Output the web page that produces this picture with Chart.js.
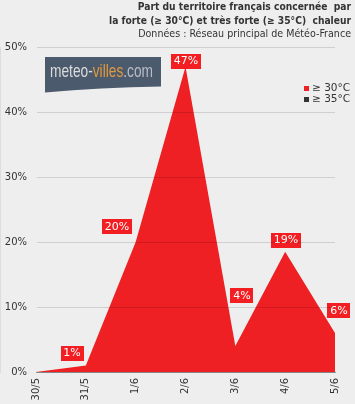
<!DOCTYPE html>
<html><head><meta charset="utf-8">
<script src="https://cdn.jsdelivr.net/npm/chart.js@4.4.0/dist/chart.umd.min.js"></script>
<style>html,body{margin:0;padding:0;background:#eeeeee;overflow:hidden;}</style>
</head><body><canvas id="c" width="355" height="404"></canvas>
<script>
const categories = ['30/5', '31/5', '1/6', '2/6', '3/6', '4/6', '5/6'];
const seriesNames = ['≥ 30°C', '≥ 35°C'];
const forte = [0, 1, 20, 47, 4, 18.5, 6];
const tresForte = [0, 0, 0, 0, 0, 0, 0];
const yTicks = [0, 10, 20, 30, 40, 50];
const titleLines = ['Part du territoire français concernée  par', 'la forte (≥ 30°C) et très forte (≥ 35°C)  chaleur'];
const subtitleText = 'Données : Réseau principal de Météo-France';
const logoParts = ['meteo-', 'villes', '.com'];

const RED = 'rgb(238,32,36)';
const DARK = '#333333';
const SANS = "'DejaVu Sans', Verdana, sans-serif";
const COND = "'DejaVu Sans Condensed', 'DejaVu Sans', sans-serif";

// label placement (style): [dx of box centre, dy of box bottom] relative to the point
const labelPlacement = [null, [-13.5, -5], [-19, -8], [0, 2], [6.5, -43], [1, -4], [3.5, -15]];

const dataLabels = {
  id: 'dataLabels',
  afterDatasetsDraw(chart) {
    const ctx = chart.ctx;
    const meta = chart.getDatasetMeta(0);
    const vals = chart.data.datasets[0].data;
    ctx.save();
    ctx.font = '11px ' + SANS;
    ctx.textAlign = 'center';
    ctx.textBaseline = 'middle';
    meta.data.forEach((pt, i) => {
      if (!vals[i] || !labelPlacement[i]) return;
      const txt = Math.round(vals[i]) + '%';
      const w = Math.round(ctx.measureText(txt).width + 6);
      const h = 15;
      const cx = pt.x + labelPlacement[i][0];
      const bottom = pt.y + labelPlacement[i][1];
      ctx.fillStyle = 'rgb(242,30,34)';
      ctx.fillRect(Math.round(cx - w / 2), Math.round(bottom - h), w, h);
      ctx.fillStyle = '#ffffff';
      ctx.fillText(txt, Math.round(cx), Math.round(bottom - h / 2) + 0.5);
    });
    ctx.restore();
  }
};

const customLegend = {
  id: 'customLegend',
  afterDraw(chart) {
    const ctx = chart.ctx;
    ctx.save();
    ctx.font = '10.5px ' + SANS;
    ctx.textAlign = 'left';
    ctx.textBaseline = 'middle';
    chart.data.datasets.forEach((ds, i) => {
      const y = 88.5 + i * 10.7;
      ctx.fillStyle = ds.legendColor;
      ctx.fillRect(304, Math.round(y - 2.5), 5, 5);
      ctx.fillStyle = DARK;
      ctx.fillText(ds.label, 312, y);
    });
    ctx.restore();
  }
};

const logo = {
  id: 'logo',
  afterDraw(chart) {
    const ctx = chart.ctx;
    ctx.save();
    ctx.fillStyle = '#4c5a6e';
    ctx.beginPath();
    ctx.moveTo(45, 57);
    ctx.lineTo(161, 57);
    ctx.lineTo(161, 86.5);
    ctx.quadraticCurveTo(100, 87.5, 45, 92.5);
    ctx.closePath();
    ctx.fill();
    ctx.font = "19px 'Liberation Sans Narrow', 'Liberation Sans', Arial, sans-serif";
    ctx.textBaseline = 'alphabetic';
    ctx.textAlign = 'left';
    const widths = logoParts.map(p => ctx.measureText(p).width);
    const total = widths.reduce((a, b) => a + b, 0);
    const sx = 103 / total;
    ctx.translate(50, 77);
    ctx.scale(sx, 1);
    const cols = ['#dcdcdc', '#e09a3f', '#b8bdc7'];
    let x = 0;
    logoParts.forEach((p, i) => {
      ctx.fillStyle = cols[i];
      ctx.fillText(p, x, 0);
      x += widths[i];
    });
    ctx.restore();
  }
};

new Chart(document.getElementById('c'), {
  type: 'line',
  data: {
    labels: categories,
    datasets: [
      { label: seriesNames[0], data: forte, fill: 'origin', backgroundColor: RED, legendColor: RED,
        borderWidth: 0, borderColor: RED, pointRadius: 0, pointHoverRadius: 0, tension: 0 },
      { label: seriesNames[1], data: tresForte, fill: 'origin', backgroundColor: DARK, legendColor: DARK,
        borderWidth: 0, borderColor: DARK, pointRadius: 0, pointHoverRadius: 0, tension: 0 }
    ]
  },
  options: {
    responsive: false,
    devicePixelRatio: 1,
    animation: false,
    events: [],
    layout: { padding: { left: 0, right: 4, top: 0, bottom: 0 } },
    plugins: {
      legend: { display: false },
      tooltip: { enabled: false },
      title: {
        display: true, text: titleLines, align: 'end', color: DARK,
        font: { family: COND, size: 10.2, weight: 'bold', lineHeight: 1.3 },
        padding: { top: 1, bottom: 0 }
      },
      subtitle: {
        display: true, text: subtitleText, align: 'end', color: DARK,
        font: { family: COND, size: 10.6, weight: 'normal', lineHeight: 1.2 },
        padding: { top: 0, bottom: 7 }
      }
    },
    scales: {
      x: {
        type: 'category',
        offset: false,
        grid: { display: true, color: 'rgba(0,0,0,0)', drawTicks: false },
        border: { display: true, color: '#999999', width: 1, z: 1 },
        ticks: { minRotation: 90, maxRotation: 90, autoSkip: false, padding: 6, color: DARK,
                 font: { family: SANS, size: 10 } },
        afterFit(s) { s.paddingRight = 20; s.height = 32; }
      },
      y: {
        min: 0, max: 50,
        afterBuildTicks(s) { s.ticks = yTicks.map(v => ({ value: v })); },
        grid: { color: 'rgba(0,0,0,0.13)', drawTicks: false, z: 1 },
        border: { display: true, color: '#cccccc', width: 1 },
        ticks: { padding: 9, color: DARK, font: { family: SANS, size: 10 },
                 callback: v => v + '%' },
        afterFit(s) { s.width = 36; }
      }
    }
  },
  plugins: [dataLabels, customLegend, logo]
});
</script>
</body></html>
